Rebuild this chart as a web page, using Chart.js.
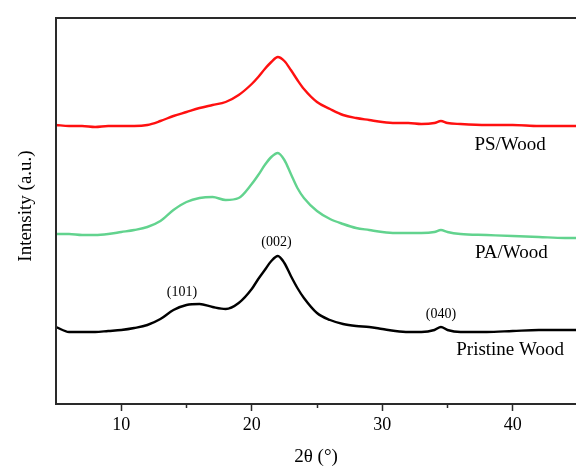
<!DOCTYPE html>
<html>
<head>
<meta charset="utf-8">
<script src="https://cdn.jsdelivr.net/npm/chart.js@4.4.1/dist/chart.umd.min.js"></script>
<style>
    body { margin: 0; background: #fff; }
    #wrap { width: 576px; height: 466px; position: relative; }
</style>
</head>
<body>
<div id="wrap"><canvas id="xrd"></canvas></div>
<script>
// 2theta sampling (deg)
const angles = [5, 6, 7, 8, 9, 10, 11, 12, 13, 14, 15, 16, 17, 18, 19, 20, 20.5, 21, 21.5, 22, 22.5,
    23, 23.5, 24, 25, 26, 27, 28, 29, 30, 31, 32, 33, 34, 34.5, 35, 36, 38, 40, 42, 44, 45];

// intensities (a.u., curves already offset)
const psWood = [279, 278, 278, 277, 278, 278, 278, 279, 283, 288, 292, 296, 299, 302, 309, 320, 327, 335, 342, 347, 343,
    334, 324, 315, 302, 295, 289, 286, 284, 282, 281, 281, 280, 281, 283, 281, 280, 279, 279, 278, 278, 278];
const paWood = [170, 170, 169, 169, 170, 172, 174, 177, 183, 194, 202, 206, 207, 204, 206, 220, 229, 239, 247, 251, 244,
    230, 216, 206, 193, 185, 180, 176, 174, 172, 171, 171, 171, 172, 174, 172, 170, 169, 168, 167, 166, 166];
const pristineWood = [77, 72, 72, 72, 73, 74, 76, 79, 85, 94, 99, 100, 97, 95, 101, 115, 125, 134, 143, 148, 141,
    128, 116, 106, 91, 84, 80, 78, 77, 75, 73, 72, 72, 74, 77, 74, 72, 72, 73, 74, 74, 74];

const xTicks = [10, 15, 20, 25, 30, 35, 40];

// text labels placed in data coordinates
const curveLabels = [
    { text: 'PS/Wood', x: 39.8, y: 259, size: 19 },
    { text: 'PA/Wood', x: 39.9, y: 151, size: 19 },
    { text: 'Pristine Wood', x: 39.8, y: 54, size: 19 },
    { text: '(101)', x: 14.65, y: 112, size: 14 },
    { text: '(002)', x: 21.9, y: 162, size: 14 },
    { text: '(040)', x: 34.5, y: 90, size: 14 }
];

const FONT = "'Liberation Serif', 'Times New Roman', serif";

function series(vals) {
    return angles.map((a, i) => ({ x: a, y: vals[i] }));
}

const framePlugin = {
    id: 'frame',
    afterDraw(chart) {
        const ctx = chart.ctx;
        const area = chart.chartArea;
        const xs = chart.scales.x;
        const ys = chart.scales.y;
        ctx.save();
        // left and top frame lines
        ctx.strokeStyle = '#2a2a2a';
        ctx.lineWidth = 2;
        ctx.beginPath();
        ctx.moveTo(area.left, area.bottom);
        ctx.lineTo(area.left, area.top);
        ctx.lineTo(area.right, area.top);
        ctx.stroke();
        // minor ticks
        ctx.lineWidth = 1.5;
        xTicks.filter(v => v % 10 !== 0).forEach(v => {
            const px = Math.round(xs.getPixelForValue(v)) + 0.5;
            ctx.beginPath();
            ctx.moveTo(px, area.bottom);
            ctx.lineTo(px, area.bottom + 4);
            ctx.stroke();
        });
        // annotations
        ctx.fillStyle = '#000';
        ctx.textAlign = 'center';
        ctx.textBaseline = 'middle';
        curveLabels.forEach(l => {
            ctx.font = l.size + 'px ' + FONT;
            ctx.fillText(l.text, xs.getPixelForValue(l.x), ys.getPixelForValue(l.y));
        });
        // axis titles
        ctx.font = '19px ' + FONT;
        ctx.fillText('2θ (°)', (area.left + area.right) / 2, 457);
        ctx.translate(26, (area.top + area.bottom) / 2 - 5);
        ctx.rotate(-Math.PI / 2);
        ctx.fillText('Intensity (a.u.)', 0, 0);
        ctx.restore();
    }
};

const ctx = document.getElementById('xrd').getContext('2d');
new Chart(ctx, {
    type: 'line',
    data: {
        datasets: [
            { label: 'PS/Wood', data: series(psWood), borderColor: '#ff1010' },
            { label: 'PA/Wood', data: series(paWood), borderColor: '#62d38e' },
            { label: 'Pristine Wood', data: series(pristineWood), borderColor: '#000000' }
        ]
    },
    options: {
        responsive: true,
        maintainAspectRatio: false,
        animation: false,
        layout: { padding: { left: 56, top: 18, right: 0, bottom: 0 } },
        elements: {
            line: { borderWidth: 2.4, cubicInterpolationMode: 'monotone' },
            point: { radius: 0 }
        },
        plugins: {
            legend: { display: false },
            tooltip: { enabled: false }
        },
        scales: {
            x: {
                type: 'linear',
                min: 5,
                max: 44.85,
                afterBuildTicks: s => { s.ticks = xTicks.map(v => ({ value: v })); },
                afterFit: s => { s.height = 62; },
                border: { color: '#2a2a2a', width: 2 },
                grid: {
                    drawOnChartArea: false,
                    tickLength: 7,
                    tickWidth: 1.5,
                    tickColor: c => (c.tick && c.tick.value % 10 === 0) ? '#2a2a2a' : 'rgba(0,0,0,0)'
                },
                ticks: {
                    color: '#000',
                    padding: 3,
                    maxRotation: 0,
                    autoSkip: false,
                    font: { family: FONT, size: 18 },
                    callback: v => v % 10 === 0 ? v : ''
                }
            },
            y: {
                display: false,
                min: 0,
                max: 386
            }
        }
    },
    plugins: [framePlugin]
});
</script>
</body>
</html>
